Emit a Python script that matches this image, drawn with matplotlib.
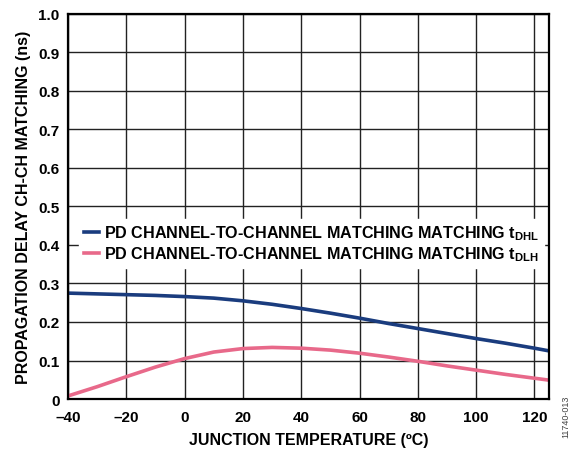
import matplotlib
matplotlib.use('Agg')
import matplotlib.pyplot as plt

plt.rcParams['font.family'] = ['Liberation Sans', 'DejaVu Sans']
plt.rcParams['font.weight'] = 'bold'
plt.rcParams['mathtext.fontset'] = 'custom'
plt.rcParams['mathtext.rm'] = 'Liberation Sans:bold'
plt.rcParams['mathtext.bf'] = 'Liberation Sans:bold'
plt.rcParams['mathtext.it'] = 'Liberation Sans:bold'

# junction temperature (C)
temp = [-40, -30, -20, -10, 0, 10, 20, 30, 40, 50, 60, 70, 80, 90, 100, 110, 120, 125]
# delay matching (ns)
t_dhl = [0.275, 0.273, 0.271, 0.269, 0.266, 0.262, 0.255, 0.246, 0.235, 0.223,
         0.210, 0.196, 0.183, 0.170, 0.157, 0.145, 0.132, 0.125]
t_dlh = [0.008, 0.032, 0.058, 0.083, 0.105, 0.122, 0.131, 0.134, 0.132, 0.127,
         0.119, 0.109, 0.098, 0.086, 0.075, 0.064, 0.054, 0.049]

xticks = [-40, -20, 0, 20, 40, 60, 80, 100, 120]
xlabels = ['\u201340', '\u201320', '0', '20', '40', '60', '80', '100', '120']
yticks = [0, 0.1, 0.2, 0.3, 0.4, 0.5, 0.6, 0.7, 0.8, 0.9, 1.0]
ylabels = ['0', '0.1', '0.2', '0.3', '0.4', '0.5', '0.6', '0.7', '0.8', '0.9', '1.0']

fig = plt.figure(figsize=(5.74, 4.52), dpi=100)
ax = fig.add_axes([0.1185, 0.115, 0.838, 0.852])

ax.plot(temp, t_dhl, color='#1a3c7e', lw=2.6,
        label=r'PD CHANNEL-TO-CHANNEL MATCHING MATCHING $\mathregular{t_{DHL}}$')
ax.plot(temp, t_dlh, color='#e8698a', lw=2.6,
        label=r'PD CHANNEL-TO-CHANNEL MATCHING MATCHING $\mathregular{t_{DLH}}$')

ax.set_xlim(-40, 125)
ax.set_ylim(0, 1.0)
ax.set_xticks(xticks)
ax.set_xticklabels(xlabels)
ax.set_yticks(yticks)
ax.set_yticklabels(ylabels)
ax.tick_params(axis='x', length=0, labelsize=11, pad=8)
ax.tick_params(axis='y', length=0, labelsize=11, pad=6)
ax.grid(True, color='#222222', lw=1.0)
ax.set_axisbelow(True)
for s in ax.spines.values():
  s.set_linewidth(1.6)
  s.set_color('black')

ax.set_xlabel('JUNCTION TEMPERATURE (\u00baC)', fontsize=11.5, fontweight='bold', labelpad=6)
ax.set_ylabel('PROPAGATION DELAY CH-CH MATCHING (ns)', fontsize=11.5, fontweight='bold', labelpad=5)

leg = ax.legend(loc='upper left', bbox_to_anchor=(0.02, 0.472), frameon=True,
                fontsize=11.6, handlelength=0.9, handletextpad=0.35,
                borderpad=0.3, borderaxespad=0.1, labelspacing=0.12, fancybox=False)
leg.get_frame().set_facecolor('white')
leg.get_frame().set_edgecolor('white')
leg.get_frame().set_alpha(1.0)

fig.text(0.985, 0.03, '11740-013', rotation=90, fontsize=6.5, color='#444444',
         fontweight='normal', ha='center', va='bottom')

fig.savefig('out.png', dpi=100)
